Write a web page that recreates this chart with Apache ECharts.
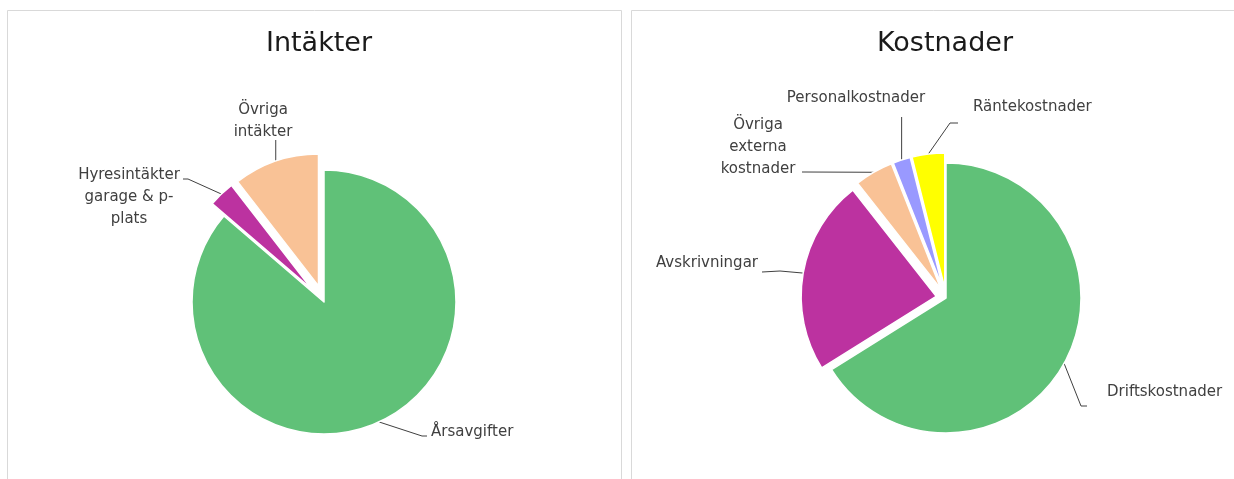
<!DOCTYPE html>
<html>
<head>
<meta charset="utf-8">
<script src="https://cdn.jsdelivr.net/npm/echarts@6/dist/echarts.min.js"></script>
<style>
    html, body { margin: 0; padding: 0; background: #fff; }
    #chart { width: 1234px; height: 479px; }
</style>
</head>
<body>
<div id="chart"></div>
<script>
// data (share of each pie, in %)
var incomeNames = ['Årsavgifter', 'Hyresintäkter\ngarage & p-\nplats', 'Övriga\nintäkter'];
var incomeValues = [86.3, 3.2, 10.5];
var incomeColors = ['#60c178', '#bc32a0', '#f9c296'];

var costNames = ['Driftskostnader', 'Avskrivningar', 'Övriga\nexterna\nkostnader', 'Personalkostnader', 'Räntekostnader'];
var costValues = [66.1, 23.3, 4.6, 2.1, 3.9];
var costColors = ['#60c178', '#bc32a0', '#f9c296', '#9999ff', '#ffff00'];

var font = 'DejaVu Sans';

var incomeCenter = [324, 302], incomeRadius = 132, incomeOffset = 17;
var costCenter = [946, 298], costRadius = 135, costOffset = 10;

// where Excel put the labels (layout only)
var incomeLabelPos = [
    {x: 431, y: 432, align: 'left', elbow: [422, 436], end: [427, 436]},
    {x: 129, y: 197, align: 'center', elbow: [188, 179], end: [183, 179]},
    {x: 263, y: 121, align: 'center', up: 141}
];
var costLabelPos = [
    {x: 1107, y: 392, align: 'left', elbow: [1081, 406], end: [1087, 406]},
    {x: 758, y: 263, align: 'right', elbow: [780, 271], end: [762, 272]},
    {x: 758, y: 147, align: 'center', elbow: [805, 172], end: [802, 172]},
    {x: 856, y: 98, align: 'center', up: 118},
    {x: 973, y: 107, align: 'left', elbow: [950, 123], end: [958, 123]}
];

function makeData(names, values, colors) {
    var out = [];
    for (var i = 0; i < names.length; i++) {
        out.push({
            name: names[i],
            value: values[i],
            selected: i > 0,   // every slice but the big one is pulled out
            itemStyle: {color: colors ? colors[i] : 'rgba(0,0,0,0)'}
        });
    }
    return out;
}

// slices only
function pieSeries(name, names, values, colors, center, radius, offset) {
    return {
        name: name,
        type: 'pie',
        center: center,
        radius: radius,
        startAngle: 90,
        clockwise: true,
        selectedMode: 'multiple',
        selectedOffset: offset,
        animation: false,
        silent: true,
        itemStyle: {borderColor: '#fff', borderWidth: 1.5},
        select: {itemStyle: {borderColor: '#fff', borderWidth: 1.5}},
        emphasis: {disabled: true},
        label: {show: false},
        labelLine: {show: false},
        data: makeData(names, values, colors)
    };
}

// same pie, invisible, only carrying the labels
function labelSeries(name, names, values, center, radius, offset, posList) {
    var data = [];
    for (var i = 0; i < names.length; i++) {
        data.push({name: names[i], value: values[i]});
    }
    return {
        name: name + ' labels',
        type: 'pie',
        center: center,
        radius: radius,
        startAngle: 90,
        clockwise: true,
        animation: false,
        silent: true,
        avoidLabelOverlap: false,
        itemStyle: {color: 'rgba(0,0,0,0)', borderWidth: 0},
        emphasis: {disabled: true},
        label: {
            show: true,
            position: 'outer',
            alignTo: 'none',
            color: '#404040',
            fontSize: 15,
            lineHeight: 22,
            fontFamily: font
        },
        labelLine: {
            show: true,
            length: 10,
            length2: 10,
            lineStyle: {color: '#404040', width: 1}
        },
        labelLayout: function (params) {
            var pos = posList[params.dataIndex];
            var res = {x: pos.x, y: pos.y, align: pos.align, verticalAlign: 'middle'};
            var pts = params.labelLinePoints;
            if (pts && pts.length) {
                var p = pts[0];
                var dx = p[0] - center[0], dy = p[1] - center[1];
                var len = Math.sqrt(dx * dx + dy * dy) || 1;
                var k = params.dataIndex > 0 ? offset : 0;
                var p0 = [p[0] + dx / len * k, p[1] + dy / len * k];
                if (pos.up != null) {
                    res.labelLinePoints = [p0, [p0[0], pos.up], [p0[0], pos.up - 1]];
                } else {
                    res.labelLinePoints = [p0, pos.elbow, pos.end];
                }
            }
            return res;
        },
        data: data
    };
}

var chart = echarts.init(document.getElementById('chart'));
var titleStyle = {fontSize: 27, fontWeight: 'normal', color: '#1a1a1a', fontFamily: font};
var option = {
    backgroundColor: '#fff',
    title: [
        {text: 'Intäkter', left: 314, top: 25, textAlign: 'center', textStyle: titleStyle},
        {text: 'Kostnader', left: 940, top: 25, textAlign: 'center', textStyle: titleStyle}
    ],
    graphic: [
        {type: 'rect', shape: {x: 7.5, y: 10.5, width: 614, height: 480}, style: {fill: 'none', stroke: '#d9d9d9', lineWidth: 1}, z: -1},
        {type: 'rect', shape: {x: 631.5, y: 10.5, width: 620, height: 480}, style: {fill: 'none', stroke: '#d9d9d9', lineWidth: 1}, z: -1}
    ],
    series: [
        pieSeries('Intäkter', incomeNames, incomeValues, incomeColors, incomeCenter, incomeRadius, incomeOffset),
        pieSeries('Kostnader', costNames, costValues, costColors, costCenter, costRadius, costOffset),
        labelSeries('Intäkter', incomeNames, incomeValues, incomeCenter, incomeRadius, incomeOffset, incomeLabelPos),
        labelSeries('Kostnader', costNames, costValues, costCenter, costRadius, costOffset, costLabelPos)
    ]
};
chart.setOption(option);
</script>
</body>
</html>
